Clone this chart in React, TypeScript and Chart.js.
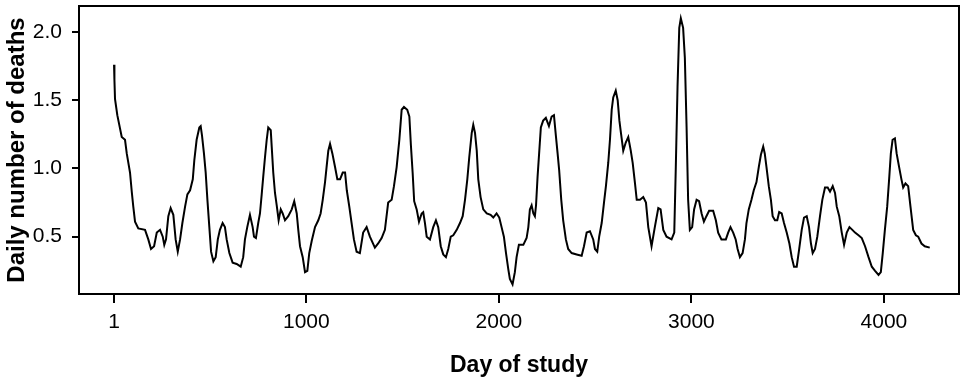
import React, { useEffect, useRef } from "react";
import { Chart, registerables } from "chart.js";

Chart.register(...registerables);

const DAYS: number[] = [
  1, 3, 6, 18, 41, 58, 67, 84, 93, 101, 110, 127, 162, 179, 193, 209, 223, 240, 254, 262, 271, 283, 295, 309, 321, 332, 344, 356, 370, 382, 396, 410, 418, 430, 444, 451, 458, 468, 477, 486, 496, 505, 517, 529, 540, 551, 565, 577, 586, 600, 617, 638, 659, 672, 681, 693, 707, 721, 728, 738, 750, 759, 768, 776, 785, 794, 802, 815, 820, 828, 837, 846, 856, 867, 877, 889, 906, 924, 937, 950, 958, 967, 981, 993, 1005, 1015, 1028, 1045, 1062, 1074, 1085, 1097, 1105, 1114, 1123, 1135, 1149, 1161, 1175, 1189, 1201, 1210, 1223, 1235, 1247, 1261, 1278,
  1295, 1313, 1330, 1356, 1373, 1391, 1408, 1425, 1443, 1455, 1469, 1483, 1495, 1507, 1524, 1535, 1543, 1552, 1560, 1573, 1585, 1599, 1607, 1616, 1625, 1642, 1659, 1673, 1685, 1698, 1711, 1725, 1737, 1750, 1763, 1781, 1798, 1812, 1824, 1836, 1846, 1859, 1867, 1876, 1885, 1893, 1905, 1919, 1937, 1957, 1971, 1988, 2002, 2014, 2026, 2037, 2049, 2057, 2071, 2083, 2092, 2104, 2127, 2144, 2153, 2161, 2170, 2179, 2187, 2193, 2201, 2210, 2218, 2230, 2244, 2260, 2274, 2286, 2296, 2305, 2313, 2324, 2334, 2348, 2360, 2378, 2404, 2430, 2442, 2456, 2473, 2490, 2499, 2511, 2521, 2534, 2546, 2556, 2568, 2577, 2586, 2594, 2607, 2617, 2626, 2634, 2646, 2659, 2672, 2685, 2695, 2707, 2716,
  2733, 2750, 2764, 2776, 2793, 2810, 2828, 2840, 2854, 2871, 2897, 2911, 2919, 2928, 2937, 2945, 2957, 2966, 2975, 2983, 2992, 3004, 3014, 3027, 3040, 3053, 3065, 3078, 3092, 3113, 3127, 3139, 3156, 3179, 3191, 3203, 3217, 3230, 3240, 3252, 3266, 3278, 3286, 3298, 3312, 3324, 3338, 3350, 3361, 3373, 3381, 3390, 3402, 3413, 3422, 3434, 3446, 3456, 3469, 3481, 3495, 3509, 3521, 3533, 3547, 3560, 3573, 3585, 3599, 3611, 3621, 3630, 3642, 3654, 3668, 3680, 3694, 3708, 3720, 3734, 3746, 3755, 3768, 3781, 3793, 3807, 3821, 3836, 3850, 3868, 3885, 3902, 3920, 3937, 3954, 3972, 3984, 3994, 4005, 4017, 4028, 4036, 4045, 4057, 4066, 4079, 4091, 4100, 4112, 4126, 4138, 4152, 4166, 4178, 4195, 4212, 4238,
];

const DEATHS: number[] = [
  1.76, 1.65, 1.51, 1.39, 1.23, 1.21, 1.11, 0.97, 0.83, 0.72, 0.61, 0.56, 0.55, 0.48, 0.41, 0.43, 0.53, 0.55, 0.5, 0.44, 0.48, 0.65, 0.71, 0.66, 0.48, 0.39, 0.48, 0.6, 0.72, 0.81, 0.84, 0.92, 1.06, 1.21, 1.3, 1.31, 1.24, 1.11, 0.97, 0.77, 0.57, 0.39, 0.32, 0.35, 0.48, 0.55, 0.6, 0.57, 0.48, 0.38, 0.31, 0.3, 0.28, 0.35, 0.48, 0.57, 0.66, 0.57, 0.5, 0.49, 0.6, 0.67, 0.81, 0.94, 1.08, 1.21, 1.3, 1.28, 1.16, 0.97, 0.82, 0.73, 0.62, 0.7, 0.67, 0.62, 0.65, 0.7, 0.76, 0.67, 0.55, 0.43, 0.35, 0.24, 0.25, 0.38, 0.47, 0.57, 0.62, 0.67, 0.77, 0.9, 1.01, 1.13, 1.18, 1.11, 1.01, 0.92, 0.92, 0.97, 0.97, 0.84, 0.72, 0.6, 0.48, 0.39, 0.38,
  0.53, 0.57, 0.5, 0.42, 0.45, 0.49, 0.55, 0.75, 0.77, 0.87, 1.01, 1.21, 1.43, 1.45, 1.43, 1.38, 1.17, 0.97, 0.76, 0.7, 0.61, 0.67, 0.68, 0.6, 0.5, 0.48, 0.57, 0.62, 0.57, 0.43, 0.37, 0.35, 0.41, 0.5, 0.51, 0.55, 0.6, 0.65, 0.77, 0.92, 1.08, 1.26, 1.32, 1.26, 1.13, 0.92, 0.79, 0.7, 0.67, 0.66, 0.64, 0.67, 0.64, 0.57, 0.5, 0.38, 0.26, 0.19, 0.15, 0.24, 0.35, 0.44, 0.44, 0.49, 0.57, 0.7, 0.73, 0.67, 0.65, 0.73, 0.94, 1.13, 1.3, 1.35, 1.37, 1.31, 1.38, 1.39, 1.24, 1.11, 0.99, 0.77, 0.62, 0.48, 0.41, 0.38, 0.37, 0.36, 0.43, 0.53, 0.54, 0.48, 0.41, 0.39, 0.5, 0.6, 0.75, 0.87, 1.04, 1.21, 1.43, 1.52, 1.57, 1.5, 1.35, 1.26, 1.13, 1.19, 1.23, 1.13, 1.04, 0.89, 0.77,
  0.77, 0.79, 0.75, 0.57, 0.43, 0.57, 0.71, 0.7, 0.55, 0.5, 0.48, 0.53, 1.01, 1.6, 2.03, 2.1, 2.03, 1.81, 1.3, 0.77, 0.55, 0.57, 0.7, 0.77, 0.76, 0.67, 0.61, 0.65, 0.69, 0.69, 0.62, 0.53, 0.48, 0.48, 0.53, 0.57, 0.53, 0.48, 0.41, 0.35, 0.38, 0.48, 0.6, 0.7, 0.77, 0.84, 0.9, 1.01, 1.1, 1.16, 1.11, 1.01, 0.87, 0.77, 0.65, 0.62, 0.62, 0.68, 0.67, 0.6, 0.53, 0.45, 0.35, 0.28, 0.28, 0.41, 0.55, 0.64, 0.65, 0.57, 0.45, 0.38, 0.41, 0.5, 0.65, 0.77, 0.86, 0.86, 0.83, 0.87, 0.82, 0.72, 0.65, 0.53, 0.44, 0.53, 0.57, 0.55, 0.53, 0.51, 0.49, 0.43, 0.35, 0.28, 0.25, 0.22, 0.24, 0.38, 0.55, 0.72, 0.94, 1.11, 1.21, 1.22, 1.11, 1.01, 0.92, 0.86, 0.89, 0.87, 0.72, 0.55, 0.51, 0.5, 0.45, 0.43, 0.42,
];

const X_TICKS: number[] = [1, 1000, 2000, 3000, 4000];
const Y_TICKS: number[] = [0.5, 1.0, 1.5, 2.0];
const X_TITLE = "Day of study";
const Y_TITLE = "Daily number of deaths";

const FONT = "'Liberation Sans', Arial, sans-serif";

const boxPlugin = {
  id: "boxPlugin",
  afterDraw(chart: any) {
    const { ctx, chartArea } = chart;
    ctx.save();
    ctx.strokeStyle = "#000";
    ctx.lineWidth = 2;
    ctx.strokeRect(chartArea.left, chartArea.top, chartArea.right - chartArea.left, chartArea.bottom - chartArea.top);
    ctx.restore();
  },
};

export default function App() {
  const ref = useRef<HTMLCanvasElement | null>(null);

  useEffect(() => {
    if (!ref.current) return;
    const points = DAYS.map((d, i) => ({ x: d, y: DEATHS[i] }));
    const chart = new Chart(ref.current, {
      type: "line",
      data: {
        datasets: [
          {
            data: points,
            borderColor: "#000",
            borderWidth: 2,
            pointRadius: 0,
            tension: 0,
            fill: false,
          },
        ],
      },
      options: {
        animation: false,
        responsive: false,
        devicePixelRatio: 1,
        layout: { padding: { top: 6, right: 3, left: 0, bottom: 0 } },
        plugins: { legend: { display: false }, tooltip: { enabled: false } },
        scales: {
          x: {
            type: "linear",
            min: -181,
            max: 4390,
            afterBuildTicks: (scale: any) => {
              scale.ticks = X_TICKS.map((v) => ({ value: v }));
            },
            afterFit: (scale: any) => {
              scale.height = 91;
              scale.paddingLeft = 0;
              scale.paddingRight = 0;
            },
            border: { display: false },
            grid: {
              drawOnChartArea: false,
              drawTicks: true,
              tickLength: 9,
              tickWidth: 2,
              tickColor: "#000",
              lineWidth: 2,
              color: "#000",
            },
            ticks: {
              color: "#000",
              padding: 7,
              maxRotation: 0,
              autoSkip: false,
              font: { family: FONT, size: 21 },
              callback: (v: any) => String(v),
            },
            title: {
              display: true,
              text: X_TITLE,
              color: "#000",
              font: { family: FONT, size: 23, weight: "bold" },
              padding: { top: 0, bottom: 6 },
            },
          },
          y: {
            type: "linear",
            min: 0.08,
            max: 2.19,
            afterBuildTicks: (scale: any) => {
              scale.ticks = Y_TICKS.map((v) => ({ value: v }));
            },
            afterFit: (scale: any) => {
              scale.width = 79;
              scale.paddingTop = 0;
              scale.paddingBottom = 0;
            },
            border: { display: false },
            grid: {
              drawOnChartArea: false,
              drawTicks: true,
              tickLength: 7,
              tickWidth: 2,
              tickColor: "#000",
              lineWidth: 2,
              color: "#000",
            },
            ticks: {
              color: "#000",
              padding: 10,
              autoSkip: false,
              font: { family: FONT, size: 21 },
              callback: (v: any) => Number(v).toFixed(1),
            },
            title: {
              display: true,
              text: Y_TITLE,
              color: "#000",
              font: { family: FONT, size: 24, weight: "bold" },
              padding: { top: 3, bottom: 0 },
            },
          },
        },
      },
      plugins: [boxPlugin],
    });
    return () => chart.destroy();
  }, []);

  return (
    <div style={{ position: "absolute", left: 0, top: 0, width: 962, height: 385, background: "#fff" }}>
      <canvas ref={ref} width={962} height={385} style={{ width: 962, height: 385, display: "block" }} />
    </div>
  );
}
